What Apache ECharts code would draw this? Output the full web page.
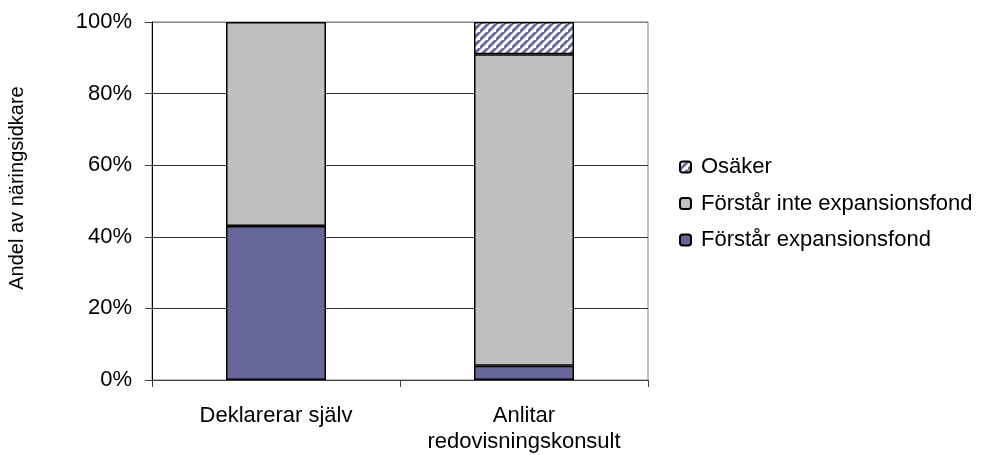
<!DOCTYPE html>
<html>
<head>
<meta charset="utf-8">
<script src="https://cdn.jsdelivr.net/npm/echarts@6/dist/echarts.min.js"></script>
<style>
  html, body { margin: 0; padding: 0; background: #fff; }
  #chart { width: 989px; height: 455px; }
</style>
</head>
<body>
<div id="chart"></div>
<script>
// Share of business owners who understand the expansion fund, by filing method
const categories = ['Deklarerar själv', 'Anlitar\nredovisningskonsult'];
const forstar = [0.43, 0.04];        // Förstår expansionsfond
const forstarInte = [0.57, 0.87];    // Förstår inte expansionsfond
const osaker = [null, 0.09];         // Osäker
const yTicks = [0, 0.2, 0.4, 0.6, 0.8, 1.0];
const legendOrder = ['Osäker', 'Förstår inte expansionsfond', 'Förstår expansionsfond'];

// Diagonal hatch tile for the "Osäker" segment
function hatchPattern() {
  const s = 8;
  const c = document.createElement('canvas');
  c.width = s; c.height = s;
  const g = c.getContext('2d');
  g.fillStyle = '#ffffff';
  g.fillRect(0, 0, s, s);
  g.strokeStyle = '#666699';
  g.lineWidth = 2.8;
  g.beginPath();
  // lines x + y = 0, s, 2s so the stripes join across tiles
  g.moveTo(-s, s); g.lineTo(s, -s);
  g.moveTo(-s, 2 * s); g.lineTo(2 * s, -s);
  g.moveTo(0, 3 * s); g.lineTo(3 * s, 0);
  g.stroke();
  return { image: c, repeat: 'repeat' };
}

const font = 'Liberation Sans, Arial, sans-serif';
const fs = 22;
const chart = echarts.init(document.getElementById('chart'), null, { renderer: 'canvas' });

chart.setOption({
  animation: false,
  textStyle: { fontFamily: font, color: '#000' },
  grid: {
    left: 152, right: 341, top: 22, bottom: 74,
    show: true, borderColor: '#808080', borderWidth: 1, backgroundColor: 'transparent'
  },
  legend: {
    orient: 'vertical',
    left: 679, top: 156,
    padding: 0,
    itemWidth: 11, itemHeight: 11,
    itemGap: 14.5,
    data: legendOrder,
    textStyle: { fontSize: fs, fontFamily: font, color: '#000', lineHeight: 22, padding: [0, 0, 0, 5] }
  },
  xAxis: {
    type: 'category',
    data: categories,
    axisLine: { lineStyle: { color: '#404040', width: 1 } },
    axisTick: { show: true, interval: 0, length: 7, alignWithLabel: false, lineStyle: { color: '#404040' } },
    axisLabel: { interval: 0, fontSize: fs, color: '#000', margin: 23, lineHeight: 26, fontFamily: font }
  },
  yAxis: {
    type: 'value',
    min: 0, max: 1, interval: 0.2,
    axisLine: { show: true, lineStyle: { color: '#000', width: 1 } },
    axisTick: { show: true, length: 7, lineStyle: { color: '#404040' } },
    axisLabel: {
      fontSize: fs, color: '#000', margin: 20, fontFamily: font,
      formatter: v => yTicks.indexOf(Math.round(v * 10) / 10) >= 0 ? Math.round(v * 100) + '%' : ''
    },
    splitLine: {
      show: true,
      lineStyle: { color: ['#404040', '#333333', '#333333', '#333333', '#333333', '#808080'], width: 1 }
    }
  },
  graphic: [{
    type: 'text',
    x: 17, y: 188,
    rotation: Math.PI / 2,
    style: {
      text: 'Andel av näringsidkare',
      fontSize: 20, fontFamily: font, fill: '#000',
      align: 'center', verticalAlign: 'middle'
    }
  }],
  series: [
    {
      name: 'Förstår expansionsfond', type: 'bar', stack: 'total', barWidth: 100,
      data: forstar,
      itemStyle: { color: '#666699', borderColor: '#000', borderWidth: 1.5 }
    },
    {
      name: 'Förstår inte expansionsfond', type: 'bar', stack: 'total', barWidth: 100,
      data: forstarInte,
      itemStyle: { color: '#c0c0c0', borderColor: '#000', borderWidth: 1.5 }
    },
    {
      name: 'Osäker', type: 'bar', stack: 'total', barWidth: 100,
      data: osaker,
      itemStyle: { color: hatchPattern(), borderColor: '#000', borderWidth: 1.5 }
    }
  ]
});
</script>
</body>
</html>
